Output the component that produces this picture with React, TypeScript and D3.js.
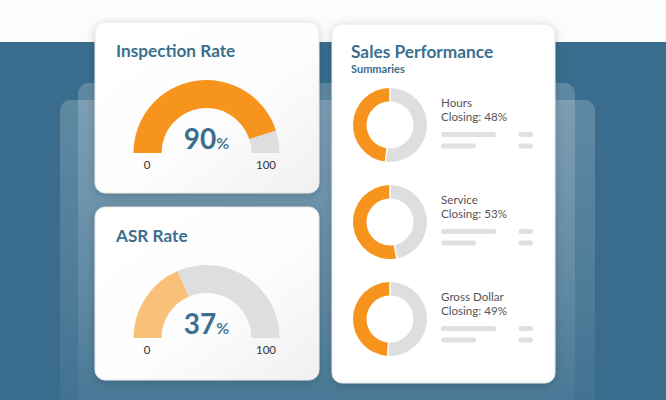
import React from "react";
import * as d3 from "d3";

const gaugeTitles = ["Inspection Rate", "ASR Rate"];
const gaugeValues = [90, 37];
const gaugeDomain = [0, 100];
const gaugeTickLabels = ["0", "100"];
const donutTitle = "Sales Performance";
const donutSubtitle = "Summaries";
const donutLabels = ["Hours", "Service", "Gross Dollar"];
const donutValues = [48, 53, 49];

const W = 666;
const H = 400;
const BLUE = "#3a6d8d";
const TEXT_BLUE = "#3b6e8f";
const ORANGE = "#f7941d";
const LIGHT_ORANGE = "#f9c07a";
const GREY = "#dedede";
const FONT = "Lato, 'Open Sans', sans-serif";

export default function App() {
  const angle = d3.scaleLinear().domain(gaugeDomain).range([-Math.PI / 2, Math.PI / 2]);
  const gaugeArc = d3.arc<any>().innerRadius(45).outerRadius(73);
  const donutArc = d3.arc<any>().innerRadius(23.5).outerRadius(37);
  const pie = d3
    .pie<{ k: string; v: number }>()
    .sort(null)
    .value((d) => d.v)
    .padAngle(0.035);

  const gaugeCards = gaugeTitles.map((t, i) => ({ title: t, value: gaugeValues[i], y: i === 0 ? 22 : 207 }));
  const gaugeColors = [ORANGE, LIGHT_ORANGE];

  return (
    <svg width={W} height={H} style={{ position: "absolute", left: 0, top: 0 }} fontFamily={FONT}>
      <defs>
        <linearGradient id="layerGrad" x1="0" y1="0" x2="0" y2="1">
          <stop offset="0" stopColor="#fff" stopOpacity={0.19} />
          <stop offset="0.6" stopColor="#fff" stopOpacity={0.1} />
          <stop offset="1" stopColor="#fff" stopOpacity={0.02} />
        </linearGradient>
        <linearGradient id="cardGrad" x1="0" y1="0" x2="1" y2="1">
          <stop offset="0" stopColor="#ffffff" />
          <stop offset="0.55" stopColor="#fdfdfd" />
          <stop offset="1" stopColor="#f0f0f0" />
        </linearGradient>
        <filter id="shadow" x="-20%" y="-20%" width="140%" height="140%">
          <feDropShadow dx="0" dy="2" stdDeviation="4" floodColor="#000" floodOpacity="0.18" />
        </filter>
      </defs>

      <rect x={0} y={0} width={W} height={H} fill="#fcfcfc" />
      <rect x={0} y={42} width={W} height={H - 42} fill={BLUE} />
      <rect x={60} y={100} width={535} height={330} rx={11} fill="url(#layerGrad)" />
      <rect x={78} y={83} width={497} height={350} rx={11} fill="url(#layerGrad)" />

      {gaugeCards.map((c, i) => {
        const cx = 206.5;
        const cy = c.y + 131;
        const end = angle(c.value);
        return (
          <g key={c.title}>
            <rect x={95} y={c.y} width={224} height={i === 0 ? 171 : 173} rx={10} fill="url(#cardGrad)" stroke="#e6e6e6" strokeWidth={1} filter="url(#shadow)" />
            <text x={116} y={c.y + 35} fill={TEXT_BLUE} fontSize={17.2} fontWeight={700}>{c.title}</text>
            <g transform={`translate(${cx},${cy})`}>
              <path d={gaugeArc({ startAngle: end, endAngle: Math.PI / 2 }) as string} fill={GREY} />
              <path d={gaugeArc({ startAngle: -Math.PI / 2, endAngle: end }) as string} fill={gaugeColors[i]} />
              <text x={0} y={-4} textAnchor="middle" fill={TEXT_BLUE} fontWeight={700}>
                <tspan fontSize={28}>{c.value}</tspan>
                <tspan fontSize={16} fontWeight={600}>%</tspan>
              </text>
              {gaugeTickLabels.map((l, j) => (
                <text key={l} x={j === 0 ? -59.5 : 59.5} y={16} textAnchor="middle" fill="#333" fontSize={11.5}>{l}</text>
              ))}
            </g>
          </g>
        );
      })}

      <rect x={332} y={24} width={223} height={359} rx={10} fill="#fff" stroke="#e6e6e6" strokeWidth={1} filter="url(#shadow)" />
      <text x={351} y={58} fill={TEXT_BLUE} fontSize={17.3} fontWeight={700}>{donutTitle}</text>
      <text x={351} y={73} fill={TEXT_BLUE} fontSize={11} fontWeight={700}>{donutSubtitle}</text>

      {donutLabels.map((lab, i) => {
        const cy = 125 + i * 97;
        const v = donutValues[i];
        const arcs = pie([
          { k: "rest", v: 100 - v },
          { k: "closing", v },
        ]);
        return (
          <g key={lab}>
            <g transform={`translate(390,${cy})`}>
              {arcs.map((a) => (
                <path key={a.data.k} d={donutArc(a) as string} fill={a.data.k === "closing" ? ORANGE : GREY} />
              ))}
            </g>
            <text x={441} y={cy - 18} fill="#555" fontSize={11.6}>{lab}</text>
            <text x={441} y={cy - 4} fill="#555" fontSize={11.6}>{`Closing: ${v}%`}</text>
            <rect x={441} y={cy + 7} width={55} height={5} rx={2.5} fill="#e0e0e0" />
            <rect x={441} y={cy + 18.5} width={35} height={5} rx={2.5} fill="#e0e0e0" />
            <rect x={518.5} y={cy + 7} width={14.5} height={5} rx={2.5} fill="#e0e0e0" />
            <rect x={518.5} y={cy + 18.5} width={14.5} height={5} rx={2.5} fill="#e0e0e0" />
          </g>
        );
      })}
    </svg>
  );
}
